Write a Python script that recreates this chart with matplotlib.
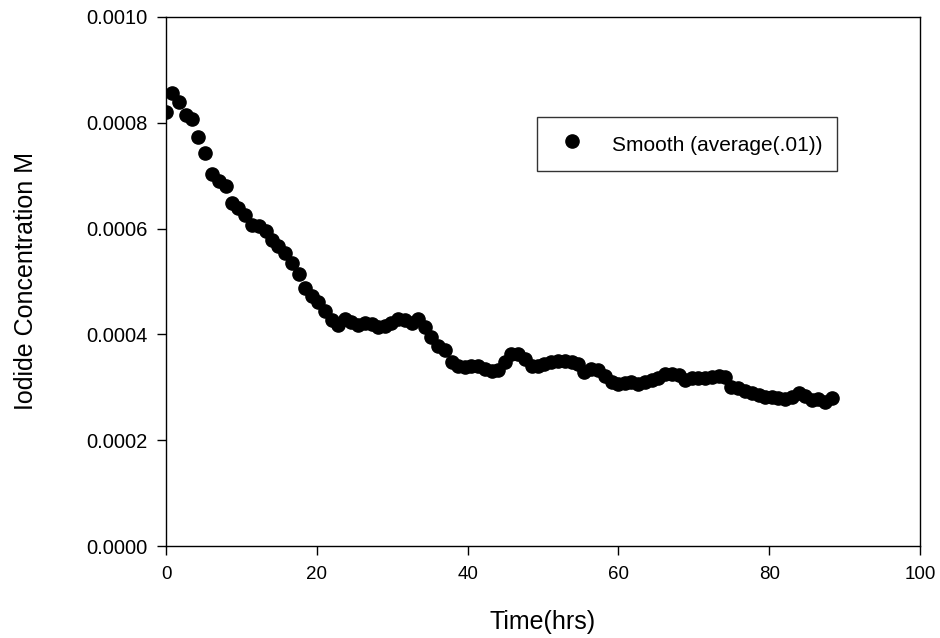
import matplotlib

matplotlib.use("Agg")

import matplotlib.pyplot as plt

plt.rcParams["font.family"] = ["Liberation Sans", "DejaVu Sans"]

time_hrs = [
    0.0, 0.8, 1.7, 2.6, 3.5, 4.3, 5.2, 6.1, 7.0, 7.9,
    8.8, 9.6, 10.5, 11.4, 12.3, 13.2, 14.0, 14.9, 15.8, 16.7,
    17.6, 18.4, 19.3, 20.2, 21.1, 22.0, 22.8, 23.7, 24.6, 25.5,
    26.4, 27.3, 28.1, 29.0, 29.9, 30.8, 31.7, 32.6, 33.4, 34.3,
    35.2, 36.1, 37.0, 37.9, 38.7, 39.6, 40.5, 41.4, 42.3, 43.2,
    44.0, 44.9, 45.8, 46.7, 47.6, 48.5, 49.3, 50.2, 51.1, 52.0,
    52.9, 53.8, 54.7, 55.5, 56.4, 57.3, 58.2, 59.1, 60.0, 60.9,
    61.7, 62.6, 63.5, 64.4, 65.3, 66.2, 67.1, 68.0, 68.8, 69.7,
    70.6, 71.5, 72.4, 73.3, 74.2, 75.0, 75.9, 76.8, 77.7, 78.6,
    79.5, 80.4, 81.2, 82.1, 83.0, 83.9, 84.8, 85.7, 86.5, 87.4,
    88.3,
]
iodide_m = [
    0.000820, 0.000856, 0.000840, 0.000815, 0.000807, 0.000773, 0.000743, 0.000703, 0.000690, 0.000680,
    0.000648, 0.000639, 0.000626, 0.000607, 0.000605, 0.000595, 0.000578, 0.000567, 0.000554, 0.000535,
    0.000514, 0.000488, 0.000473, 0.000461, 0.000444, 0.000427, 0.000418, 0.000429, 0.000423, 0.000418,
    0.000422, 0.000420, 0.000414, 0.000416, 0.000422, 0.000429, 0.000427, 0.000422, 0.000429, 0.000414,
    0.000395, 0.000378, 0.000371, 0.000348, 0.000340, 0.000338, 0.000340, 0.000340, 0.000335, 0.000331,
    0.000333, 0.000348, 0.000363, 0.000363, 0.000353, 0.000340, 0.000340, 0.000344, 0.000348, 0.000350,
    0.000350, 0.000348, 0.000344, 0.000329, 0.000335, 0.000333, 0.000321, 0.000310, 0.000306, 0.000308,
    0.000310, 0.000306, 0.000310, 0.000314, 0.000318, 0.000325, 0.000325, 0.000323, 0.000314, 0.000318,
    0.000318, 0.000318, 0.000320, 0.000321, 0.000320, 0.000301, 0.000299, 0.000293, 0.000289, 0.000285,
    0.000282, 0.000282, 0.000280, 0.000278, 0.000282, 0.000289, 0.000284, 0.000276, 0.000278, 0.000272,
    0.000280,
]

x_ticks = [0, 20, 40, 60, 80, 100]
y_ticks = [0.0, 0.0002, 0.0004, 0.0006, 0.0008, 0.0010]

fig = plt.figure(figsize=(9.4, 6.38), dpi=100)
ax = fig.add_axes([0.1766, 0.1442, 0.8021, 0.8292])

ax.plot(time_hrs, iodide_m, linestyle="none", marker="o", markersize=9.5,
        color="black", label="Smooth (average(.01))")

ax.set_xlim(0, 100)
ax.set_ylim(0, 0.001)
ax.set_xticks(x_ticks)
ax.set_yticks(y_ticks)
ax.set_yticklabels([f"{v:.4f}" for v in y_ticks])
ax.tick_params(direction="out", length=6.5, width=1)
ax.tick_params(axis="x", labelsize=13.5, pad=8)
ax.tick_params(axis="y", labelsize=14.5, pad=7)
for spine in ax.spines.values():
    spine.set_linewidth(1)

ax.set_xlabel("Time(hrs)", fontsize=18)
ax.xaxis.set_label_coords(0.5, -0.121)
ax.set_ylabel("Iodide Concentration M", fontsize=18)
ax.yaxis.set_label_coords(-0.17, 0.5)

leg = ax.legend(loc="upper left", bbox_to_anchor=(0.492, 0.811), fontsize=15,
                frameon=True, fancybox=False, edgecolor="black",
                borderpad=0.7, handletextpad=0.9, handleheight=1.45,
                borderaxespad=0)
leg.get_frame().set_linewidth(1)

fig.savefig("out.png", dpi=100)
